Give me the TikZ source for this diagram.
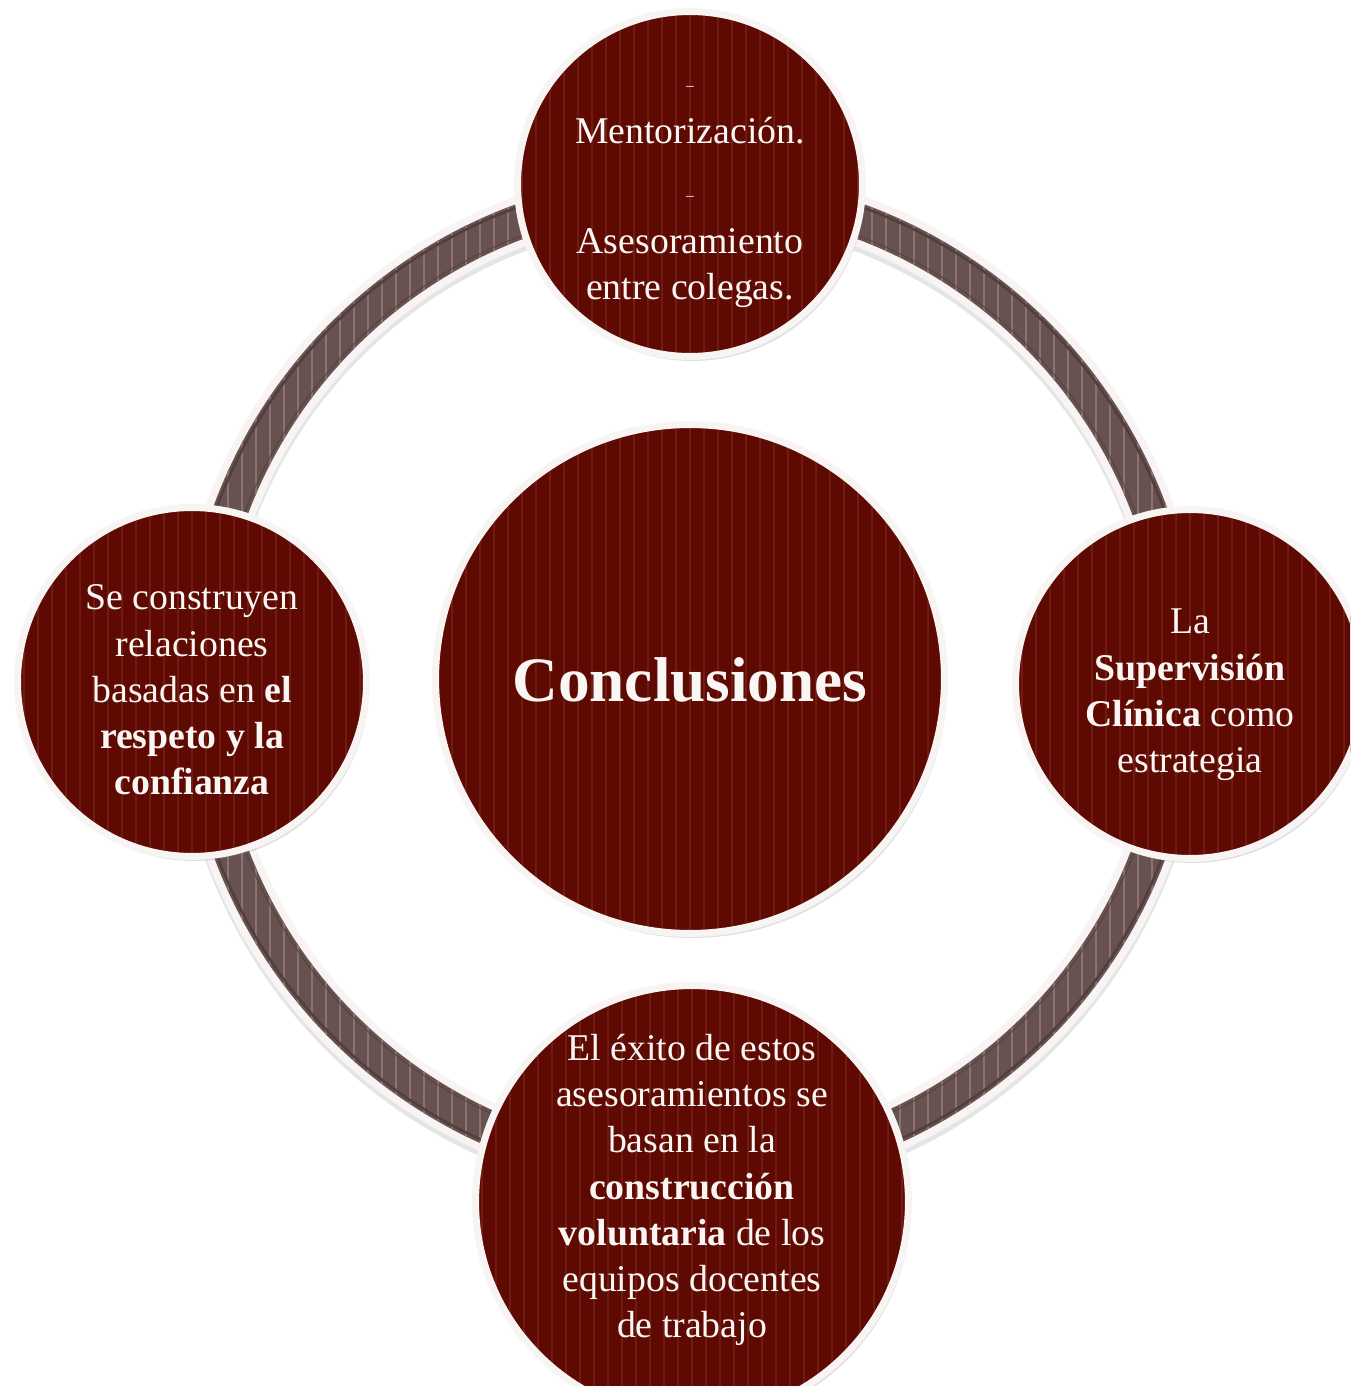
\documentclass[tikz,border=0pt]{standalone}
\usepackage{fontspec}
\setmainfont{Liberation Serif}
\usetikzlibrary{calc,shadows}

\definecolor{wine}{RGB}{94,10,2}
\definecolor{winestripe}{RGB}{112,28,18}
\definecolor{winerim}{RGB}{66,4,0}
\definecolor{ringbrown}{RGB}{103,82,80}
\definecolor{ringstripe}{RGB}{140,114,114}
\definecolor{ringdark}{RGB}{82,62,62}
\definecolor{rimwhite}{RGB}{248,244,243}
\definecolor{txtwhite}{RGB}{250,246,244}

\tikzset{
  bubble/.style={circle,inner sep=0,fill=wine,draw=rimwhite,line width=1.4mm,
    drop shadow={opacity=.25,shadow xshift=.5mm,shadow yshift=-.9mm},
    path picture={
      \foreach \k in {-17,...,17}
        \draw [winestripe,line width=.3mm] ([xshift=\k*2.8mm]path picture bounding box.north) -- ([xshift=\k*2.8mm]path picture bounding box.south);
      \draw [winerim,line width=1.3mm,opacity=.8] let \p1=($(path picture bounding box.east)-(path picture bounding box.center)$) in (path picture bounding box.center) circle (\x1);
    }},
  bubbletext/.style={text=txtwhite,align=center,font=\fontsize{21.5}{26.3}\selectfont},
}

\begin{document}
\begin{tikzpicture}[x=0.02cm,y=-0.02cm,thick]

\useasboundingbox (0,0) rectangle (1350,1386);

\begin{scope}

\clip (0,0) rectangle (1350,1386);

\coordinate (hub) at (690,681);

\draw [black,opacity=.1,line width=1cm] ([yshift=-1mm]hub) circle (9.8cm);
\draw [rimwhite,line width=1cm] (hub) circle (9.8cm);
\draw [ringbrown,line width=7mm] (hub) circle (9.8cm);

\begin{scope}[even odd rule]
\clip (hub) circle (10.15cm) (hub) circle (9.45cm);
\foreach \k in {-37,...,37}
  \draw [ringstripe,line width=.4mm] ($(hub)+(\k*2.8mm,-10.5cm)$) -- ($(hub)+(\k*2.8mm,10.5cm)$);
\end{scope}

\draw [ringdark,line width=.5mm] (hub) circle (10.08cm);
\draw [ringdark,line width=.3mm,opacity=.6] (hub) circle (9.52cm);

\node [bubble,minimum size=6.9cm] (mentor) at (690,184) {};
\node [bubble,minimum size=6.98cm] (respeto) at (192,682) {};
\node [bubble,minimum size=6.98cm] (clinica) at (1190,684) {};
\node [bubble,minimum size=8.66cm] (equipos) at (692,1202) {};
\node [bubble,minimum size=10.18cm] (core) at (690,679) {};

\node [text=txtwhite,font=\fontsize{36}{42}\selectfont\bfseries] (core-t) at (690,680) {Conclusiones};

\node [bubbletext] (mentor-t) at (690,197) {{\small --}\\[4pt]Mentorización.\\[6pt]{\small --}\\[4pt]Asesoramiento\\entre colegas.};

\node [bubbletext] (respeto-t) at (192,690) {Se construyen\\relaciones\\basadas en \textbf{el}\\\textbf{respeto y la}\\\textbf{confianza}};

\node [bubbletext] (clinica-t) at (1190,695) {La\\\textbf{Supervisión}\\\textbf{Clínica} como\\estrategia};

\node [bubbletext] (equipos-t) at (692,1190) {El éxito de estos\\asesoramientos se\\basan en la\\\textbf{construcción}\\\textbf{voluntaria} de los\\equipos docentes\\de trabajo};

\end{scope}

\end{tikzpicture}
\end{document}
